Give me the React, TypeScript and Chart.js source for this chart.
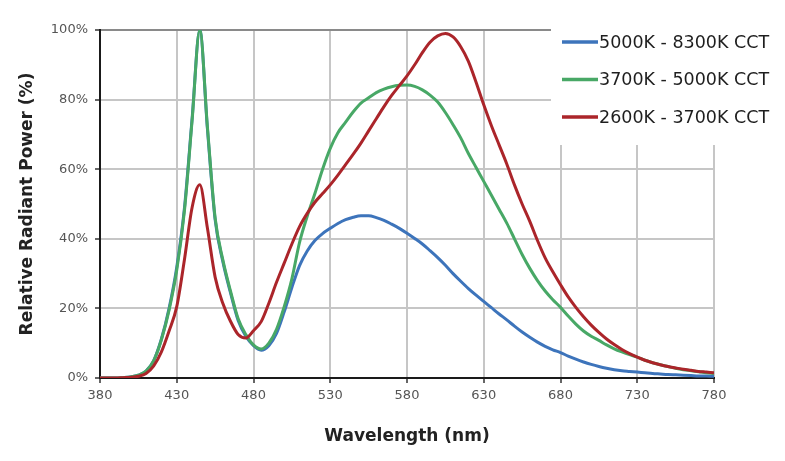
import React, { useEffect, useRef } from "react";
import { Chart, registerables } from "chart.js";

Chart.register(...registerables);

const wavelengths = [
  380, 385, 390, 395, 400, 405, 410, 415, 420, 425, 430, 435, 440, 445, 450, 455, 460, 465, 470, 475,
  480, 485, 490, 495, 500, 505, 510, 515, 520, 525, 530, 535, 540, 545, 550, 555, 560, 565, 570, 575,
  580, 585, 590, 595, 600, 605, 610, 615, 620, 625, 630, 635, 640, 645, 650, 655, 660, 665, 670, 675,
  680, 685, 690, 695, 700, 705, 710, 715, 720, 725, 730, 735, 740, 745, 750, 755, 760, 765, 770, 775,
  780,
];

const seriesNames = ["5000K - 8300K CCT", "3700K - 5000K CCT", "2600K - 3700K CCT"];
const seriesColors = ["#3d74bb", "#48a866", "#ab252a"];

const coolWhite = [
  0, 0, 0, 0.1, 0.3, 0.8, 2, 5, 11.2, 20, 31.8, 48.8, 74.5, 100, 71.5, 45.5, 33.5, 24.5, 16.5, 12,
  9.3, 8.0, 9.3, 12.8, 19, 26, 32.3, 36.5, 39.5, 41.5, 43, 44.4, 45.5, 46.2, 46.6, 46.6, 46.1, 45.3, 44.2, 43,
  41.6, 40.1, 38.5, 36.6, 34.6, 32.4, 30, 27.8, 25.7, 23.8, 22, 20.2, 18.4, 16.7, 14.9, 13.2, 11.7, 10.3, 9.1, 8.1,
  7.3, 6.3, 5.4, 4.6, 3.9, 3.3, 2.8, 2.4, 2.1, 1.9, 1.7, 1.5, 1.3, 1.15, 1, 0.9, 0.8, 0.7, 0.6, 0.55,
  0.5,
];

const neutralWhite = [
  0, 0, 0, 0.1, 0.3, 0.8, 2, 5, 11, 19.5, 31, 48, 74, 100, 72, 46, 34, 25, 17, 12.5,
  9.5, 8.3, 10, 14, 20.5, 28.5, 39, 46.5, 53, 60, 66, 70.5, 73.5, 76.5, 79, 80.5, 82, 83, 83.7, 84.1,
  84.2, 83.8, 82.8, 81.3, 79.3, 76.3, 72.8, 69, 64.5, 60.5, 56.5, 52.5, 48.5, 44.5, 40, 35.5, 31.5, 28, 25, 22.5,
  20.3, 17.8, 15.5, 13.5, 12, 10.8, 9.5, 8.4, 7.5, 6.7, 6, 5.1, 4.4, 3.8, 3.3, 2.8, 2.4, 2.1, 1.8, 1.5,
  1.3,
];

const warmWhite = [
  0, 0, 0, 0.1, 0.2, 0.5, 1.3, 3.5, 7.5, 13.5, 20.5, 34, 49, 55.5, 43, 29, 21.5, 16.3, 12.5, 11.5,
  13.6, 16.2, 21.5, 27.5, 33, 38.5, 43.5, 47.3, 50.5, 53, 55.5, 58.3, 61.3, 64.3, 67.5, 71, 74.5, 78, 81.2, 84,
  86.8, 90, 93.5, 96.5, 98.3, 99, 98, 95.2, 91, 85, 78.5, 72.5, 67, 61.5, 55.5, 50, 45, 39.5, 34.5, 30.5,
  26.8, 23.3, 20.3, 17.6, 15.2, 13.1, 11.2, 9.6, 8.2, 7, 6, 5.1, 4.4, 3.8, 3.3, 2.9, 2.5, 2.2, 1.9, 1.7,
  1.5,
];

const xTicks = [380, 430, 480, 530, 580, 630, 680, 730, 780];
const yTicks = [0, 20, 40, 60, 80, 100];

const xTitle = "Wavelength (nm)";
const yTitle = "Relative Radiant Power (%)";

const boxLegend = {
  id: "boxLegend",
  afterDraw(chart: any) {
    const { ctx, chartArea } = chart;
    ctx.save();
    const boxLeft = chartArea.right - 163;
    ctx.fillStyle = "#ffffff";
    ctx.fillRect(boxLeft, chartArea.top - 10, chart.width - boxLeft, 125);
    ctx.font = "17.5px 'DejaVu Sans'";
    ctx.textBaseline = "middle";
    ctx.textAlign = "left";
    chart.data.datasets.forEach((ds: any, i: number) => {
      const y = chartArea.top + 12 + i * 37.5;
      ctx.strokeStyle = ds.borderColor;
      ctx.lineWidth = 3.5;
      ctx.beginPath();
      ctx.moveTo(boxLeft + 11, y);
      ctx.lineTo(boxLeft + 47, y);
      ctx.stroke();
      ctx.fillStyle = "#1e1e1e";
      ctx.fillText(ds.label, boxLeft + 48, y + 1);
    });
    ctx.restore();
  },
};

export default function App() {
  const canvasRef = useRef<HTMLCanvasElement | null>(null);

  useEffect(() => {
    if (!canvasRef.current) return;
    const series = [coolWhite, neutralWhite, warmWhite];
    const chart = new Chart(canvasRef.current, {
      type: "line",
      data: {
        datasets: series.map((vals, i) => ({
          label: seriesNames[i],
          data: wavelengths.map((w, j) => ({ x: w, y: vals[j] })),
          borderColor: seriesColors[i],
          backgroundColor: seriesColors[i],
          borderWidth: 3,
          pointRadius: 0,
          fill: false,
          cubicInterpolationMode: "monotone" as const,
          order: 3 - i,
        })),
      },
      options: {
        animation: false,
        responsive: false,
        layout: { padding: { top: 30, right: 71, bottom: 0, left: 0 } },
        plugins: {
          legend: { display: false },
          tooltip: { enabled: false },
        },
        scales: {
          x: {
            type: "linear",
            min: xTicks[0],
            max: xTicks[xTicks.length - 1],
            afterBuildTicks: (scale: any) => {
              scale.ticks = xTicks.map((v) => ({ value: v }));
            },
            afterFit: (scale: any) => {
              scale.height = 83;
            },
            ticks: {
              color: "#555555",
              font: { family: "'DejaVu Sans'", size: 13 },
              padding: 5,
              maxRotation: 0,
            },
            grid: {
              color: "#c6c6c6",
              lineWidth: 2,
              tickColor: "#333333",
              tickLength: 5,
              tickWidth: 1.5,
            },
            border: { color: "#1a1a1a", width: 2 },
            title: {
              display: true,
              text: xTitle,
              color: "#222222",
              font: { family: "'DejaVu Sans'", size: 17, weight: "bold" },
              padding: { top: 0, bottom: 14 },
            },
          },
          y: {
            type: "linear",
            min: yTicks[0],
            max: yTicks[yTicks.length - 1],
            afterBuildTicks: (scale: any) => {
              scale.ticks = yTicks.map((v) => ({ value: v }));
            },
            afterFit: (scale: any) => {
              scale.width = 100;
            },
            ticks: {
              color: "#555555",
              font: { family: "'DejaVu Sans'", size: 13 },
              padding: 7,
              callback: (v: any) => v + "%",
            },
            grid: {
              color: (c: any) => (c.tick && c.tick.value === 100 ? "#8a8a8a" : "#c6c6c6"),
              lineWidth: 2,
              tickColor: "#333333",
              tickLength: 5,
              tickWidth: 1.5,
            },
            border: { color: "#1a1a1a", width: 2 },
            title: {
              display: true,
              text: yTitle,
              color: "#222222",
              font: { family: "'DejaVu Sans'", size: 17, weight: "bold" },
              padding: { top: 17, bottom: 0 },
            },
          },
        },
      },
      plugins: [boxLegend],
    });
    return () => chart.destroy();
  }, []);

  return (
    <div style={{ position: "absolute", left: 0, top: 0, width: 785, height: 461, background: "#fff" }}>
      <canvas ref={canvasRef} width={785} height={461} style={{ display: "block" }} />
    </div>
  );
}
